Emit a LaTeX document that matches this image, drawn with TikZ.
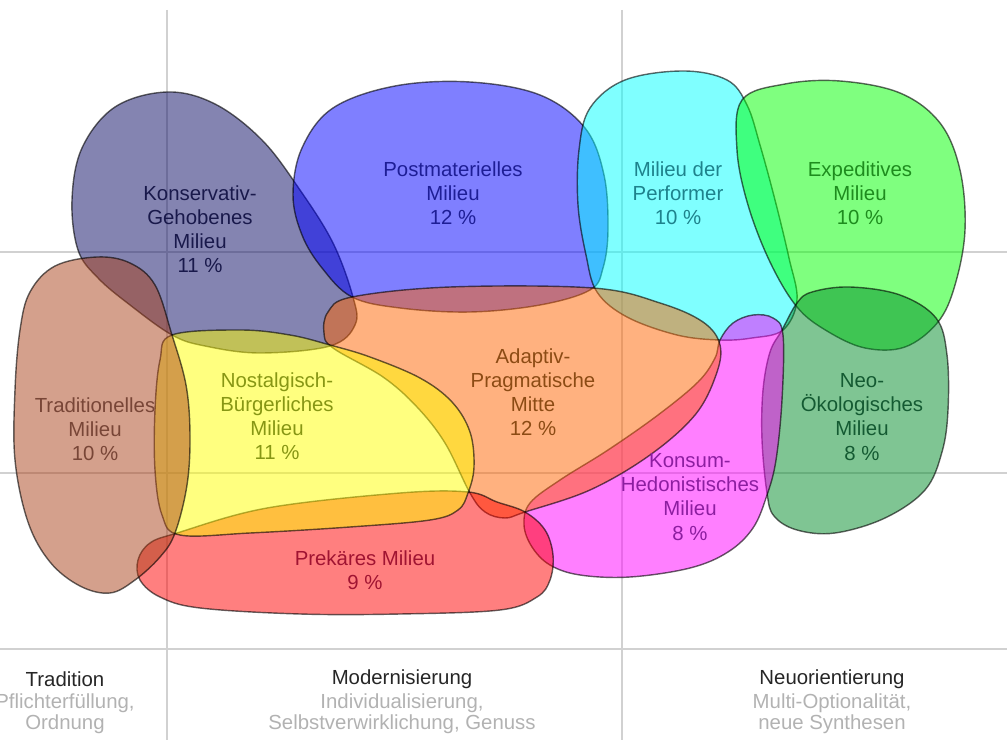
\documentclass[tikz,border=0pt]{standalone}
\usepackage{fontspec}
\setmainfont{Liberation Sans}
\usetikzlibrary{positioning}

% fill colours of the milieus
\definecolor{kgFill}{RGB}{10,10,100}
\definecolor{pmFill}{RGB}{0,0,255}
\definecolor{perfFill}{RGB}{0,255,255}
\definecolor{expFill}{RGB}{0,255,0}
\definecolor{neoFill}{RGB}{0,140,40}
\definecolor{khFill}{RGB}{255,0,255}
\definecolor{apFill}{RGB}{255,100,0}
\definecolor{prFill}{RGB}{255,0,0}
\definecolor{nbFill}{RGB}{255,255,0}
\definecolor{trFill}{RGB}{170,65,25}
% text colours
\definecolor{kgText}{RGB}{25,25,75}
\definecolor{pmText}{RGB}{30,30,150}
\definecolor{perfText}{RGB}{30,130,140}
\definecolor{expText}{RGB}{30,140,30}
\definecolor{neoText}{RGB}{20,90,50}
\definecolor{khText}{RGB}{140,30,160}
\definecolor{apText}{RGB}{140,75,20}
\definecolor{nbText}{RGB}{135,150,20}
\definecolor{trText}{RGB}{120,70,55}
\definecolor{prText}{RGB}{160,20,50}

\tikzset{
  blob/.style={draw=black, draw opacity=0.6, line width=0.8pt, fill=#1, fill opacity=0.5},
  gridline/.style={draw=black!18, line width=0.6pt},
  milieu/.style={align=center, inner sep=0pt, text=#1,
    font=\fontsize{11.6}{13.7}\selectfont},
  axishead/.style={align=center, inner sep=0pt, text=black!85,
    font=\fontsize{11.6}{13.7}\selectfont},
  axissub/.style={align=center, inner sep=0pt, text=black!30,
    font=\fontsize{11.6}{12}\selectfont},
}

\begin{document}
\begin{tikzpicture}[x=0.02cm, y=-0.02cm]
  \useasboundingbox (0,0) rectangle (1007,746);

  % Grid
  \draw[gridline] (167,10) -- (167,740);
  \draw[gridline] (622,10) -- (622,740);
  \draw[gridline] (0,252) -- (1007,252);
  \draw[gridline] (0,473) -- (1007,473);
  \draw[gridline] (0,649) -- (1007,649);

  % Konservativ-Gehobenes
  \draw[blob=kgFill] plot[smooth cycle, tension=0.6] coordinates {
    (167,92) (215,104) (262,140) (300,190) (333,243) (353,297) (355,325)
    (330,346) (260,353) (205,346) (172,335) (130,305) (98,278) (78,250)
    (72,200) (82,148) (115,107)};

  % Postmaterielles
  \draw[blob=pmFill] plot[smooth cycle, tension=0.6] coordinates {
    (352,297) (322,268) (302,235) (293,195) (302,148) (333,108) (395,86)
    (470,82) (540,95) (585,128) (604,175) (608,230) (603,268) (590,290)
    (540,305) (470,312) (400,308)};

  % Performer
  \draw[blob=perfFill] plot[smooth cycle, tension=0.6] coordinates {
    (683,71) (727,80) (747,105) (760,145) (775,200) (789,258) (797,300)
    (783,330) (752,338) (720,340) (677,335) (627,317) (597,292) (586,255)
    (578,205) (579,150) (590,108) (625,80)};

  % Expeditive
  \draw[blob=expFill] plot[smooth cycle, tension=0.6] coordinates {
    (742,100) (785,84) (840,81) (900,93) (940,123) (960,170) (965,230)
    (955,285) (938,322) (905,347) (865,348) (827,331) (797,307) (770,262)
    (748,205) (737,150)};

  % Neo-Oekologische
  \draw[blob=neoFill] plot[smooth cycle, tension=0.6] coordinates {
    (797,303) (812,292) (850,287) (900,295) (936,318) (947,355) (948,410)
    (942,452) (925,490) (885,518) (835,533) (797,530) (774,516) (767,493)
    (762,440) (763,390) (770,352) (782,330)};

  % Konsum-Hedonistische
  \draw[blob=khFill] plot[smooth cycle, tension=0.6] coordinates {
    (720,340) (733,323) (753,315) (773,318) (783,335) (782,400) (776,460)
    (767,495) (753,528) (728,552) (690,568) (630,577) (580,575) (550,565)
    (532,547) (524,525) (530,503) (560,480) (608,450) (658,415) (698,382)
    (715,358)};

  % Adaptiv-Pragmatische Mitte
  \draw[blob=apFill] plot[smooth cycle, tension=0.6] coordinates {
    (352,297) (450,287) (593,288) (660,303) (703,322) (720,345) (716,375)
    (695,415) (650,455) (590,490) (525,512) (505,518) (485,512) (470,493)
    (445,443) (417,407) (383,377) (333,348) (324,333) (328,312)};

  % Prekaere
  \draw[blob=prFill] plot[smooth cycle, tension=0.6] coordinates {
    (177,533) (267,508) (400,493) (468,492) (497,502) (525,512) (545,530)
    (553,555) (550,580) (537,597) (500,610) (400,614) (300,614) (200,608)
    (160,597) (140,580) (138,560) (150,543)};

  % Nostalgisch-Buergerliche
  \draw[blob=nbFill] plot[smooth cycle, tension=0.6] coordinates {
    (172,335) (240,330) (290,335) (330,345) (370,357) (420,378) (452,402)
    (470,432) (474,467) (468,493) (458,510) (430,520) (350,527) (250,533)
    (180,535) (162,515) (155,470) (155,410) (160,360)};

  % Traditionelle
  \draw[blob=trFill] plot[smooth cycle, tension=0.6] coordinates {
    (97,257) (130,263) (155,285) (172,335) (186,385) (190,435) (187,485)
    (175,533) (160,557) (135,580) (110,593) (80,586) (50,562) (28,522)
    (15,460) (15,390) (20,330) (30,292) (55,266)};

  % Labels
  \node[milieu=kgText] (kgLabel) at (200,229) {Konservativ-\\Gehobenes\\Milieu\\11 \%};
  \node[milieu=pmText] (pmLabel) at (453,193) {Postmaterielles\\Milieu\\12 \%};
  \node[milieu=perfText] (perfLabel) at (678,193) {Milieu der\\Performer\\10 \%};
  \node[milieu=expText] (expLabel) at (860,193) {Expeditives\\Milieu\\10 \%};
  \node[milieu=trText] (trLabel) at (95,429) {Traditionelles\\Milieu\\10 \%};
  \node[milieu=nbText] (nbLabel) at (277,416) {Nostalgisch-\\Bürgerliches\\Milieu\\11 \%};
  \node[milieu=apText] (apLabel) at (533,392) {Adaptiv-\\Pragmatische\\Mitte\\12 \%};
  \node[milieu=khText] (khLabel) at (690,497) {Konsum-\\Hedonistisches\\Milieu\\8 \%};
  \node[milieu=neoText] (neoLabel) at (862,417) {Neo-\\Ökologisches\\Milieu\\8 \%};
  \node[milieu=prText] (prLabel) at (365,570) {Prekäres Milieu\\9 \%};

  % Axis
  \node[axishead] (tradHead) at (65,679) {Tradition};
  \node[axissub] (tradSub) at (65,714) {Pflichterfüllung,\\Ordnung};
  \node[axishead] (modHead) at (402,679) {Modernisierung};
  \node[axissub] (modSub) at (402,714) {Individualisierung,\\Selbstverwirklichung, Genuss};
  \node[axishead] (neuHead) at (832,679) {Neuorientierung};
  \node[axissub] (neuSub) at (832,714) {Multi-Optionalität,\\neue Synthesen};
\end{tikzpicture}
\end{document}
